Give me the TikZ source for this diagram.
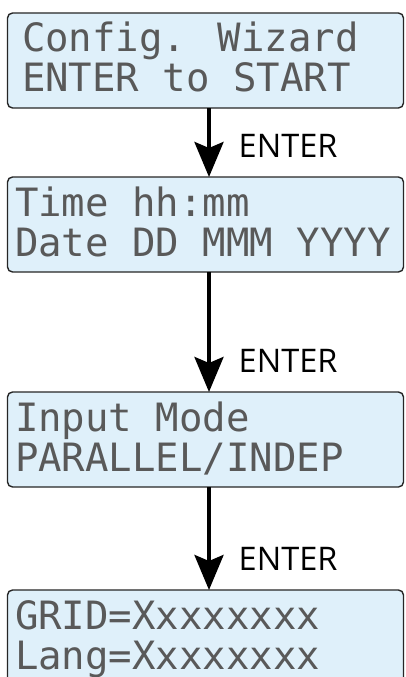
\documentclass[tikz,border=0pt]{standalone}
\usepackage{fontspec}
\setmainfont{Open Sans}
\newfontfamily\lcdfont{DejaVu Sans Mono}
\usetikzlibrary{arrows.meta,positioning}
\definecolor{lcdblue}{RGB}{223,240,250}

\begin{document}
\begin{tikzpicture}[
  x=1pt, y=-1pt,
  >={Stealth[length=35pt,width=29pt,inset=6pt]},
  lcd/.style={draw=black!85,line width=1.4pt,rounded corners=5pt,fill=lcdblue,
    outer sep=0pt,inner xsep=7.5pt,inner ysep=0pt,text width=381pt,align=flush left,
    text height=39pt,text depth=56pt,text=black!65,
    font={\lcdfont\fontsize{39}{40}\selectfont},
    execute at begin node={\spaceskip=0pt\xspaceskip=0pt}},
  lbl/.style={font={\fontsize{32.5}{32.5}\selectfont},anchor=base west,inner sep=0pt},
  ar/.style={->,line width=4pt}
]
\useasboundingbox (0,0) rectangle (405,677);
\clip (0,0) rectangle (405,677);
% wizard screens, top to bottom
\node[lcd,anchor=north west] (cfg) at (7.5,13) {\hspace*{7pt}Config. Wizard\\\hspace*{7pt}ENTER to START};
\node[lcd,below=69pt of cfg] (clock) {Time hh:mm\\Date DD MMM YYYY};
\node[lcd,below=120pt of clock] (mode) {Input Mode\\PARALLEL/INDEP};
\node[lcd,below=103pt of mode] (grid) {GRID=Xxxxxxxx\\Lang=Xxxxxxxx};
% key presses between screens
\draw[ar] ([xshift=3.5pt]cfg.south) -- ([xshift=3.5pt]clock.north);
\draw[ar] ([xshift=3.5pt]clock.south) -- ([xshift=3.5pt]mode.north);
\draw[ar] ([xshift=3.5pt]mode.south) -- ([xshift=3.5pt]grid.north);
\node[lbl] (k1) at ([xshift=33pt,yshift=20pt]clock.north) {ENTER};
\node[lbl] (k2) at ([xshift=33pt,yshift=20pt]mode.north) {ENTER};
\node[lbl] (k3) at ([xshift=33pt,yshift=20pt]grid.north) {ENTER};
\end{tikzpicture}
\end{document}
